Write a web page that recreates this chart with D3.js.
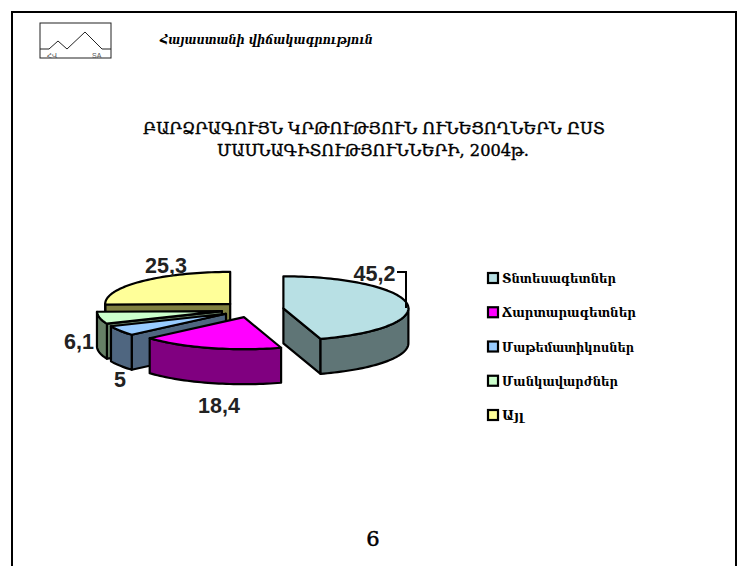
<!DOCTYPE html>
<html><head><meta charset="utf-8">
<style>html,body{margin:0;padding:0;background:#fff}svg{display:block}</style>
<script src="https://cdn.jsdelivr.net/npm/d3@7"></script>
</head><body><svg id="c" width="745" height="566"></svg>
<script>
const categories=["Տնտեսագետներ","Ճարտարագետներ","Մաթեմատիկոսներ","Մանկավարժներ","Այլ"];
const values=[45.2,18.4,5,6.1,25.3];
const valueLabels=["45,2","18,4","5","6,1","25,3"];
const topColors=["#b8e0e4","#ff00ff","#99ccff","#ccffcc","#ffff99"];
const wallColors=["#5f7576","#800080","#4f6680","#668066","#808040"];
const titleLines=["ԲԱՐՁՐԱԳՈՒՅՆ ԿՐԹՈՒԹՅՈՒՆ ՈՒՆԵՑՈՂՆԵՐՆ ԸՍՏ","ՄԱՍՆԱԳԻՏՈՒԹՅՈՒՆՆԵՐԻ, 2004թ."];
const subtitle="Հայաստանի վիճակագրություն";
const pageNumber="6";

const svg=d3.select("#c");
const serif="'DejaVu Serif',serif";
const sans="'Liberation Sans',Arial,sans-serif";

// frame
svg.append("path").attr("d","M12,566V12H736V566").attr("fill","none").attr("stroke","#000").attr("stroke-width",2);

// logo
const logo=svg.append("g");
logo.append("rect").attr("x",40).attr("y",23).attr("width",71).attr("height",35).attr("fill","none").attr("stroke","#222").attr("stroke-width",1);
logo.append("path").attr("d",d3.line()([[40,49],[49,49],[58,41],[67,49],[85,32],[102,49],[111,49]])).attr("fill","none").attr("stroke","#222").attr("stroke-width",1);
logo.append("text").attr("x",47).attr("y",58).attr("font-family","'DejaVu Sans'").attr("font-size",7).attr("fill","#555").text("ՀՎ");
logo.append("text").attr("x",92).attr("y",58).attr("font-family",sans).attr("font-size",7).attr("fill","#555").text("SA");

svg.append("text").attr("x",160).attr("y",44).attr("font-family",serif).attr("font-style","italic").attr("font-weight","bold")
  .attr("font-size",13).attr("textLength",213).attr("lengthAdjust","spacingAndGlyphs").attr("fill","#000").text(subtitle);

svg.selectAll("text.t").data(titleLines).join("text").attr("class","t")
  .attr("x",(d,i)=>i?217:143).attr("y",(d,i)=>i?156:134).attr("font-family",serif).attr("font-size",17)
  .attr("textLength",(d,i)=>i?312:462).attr("lengthAdjust","spacingAndGlyphs").attr("fill","#000")
  .attr("stroke","#000").attr("stroke-width",0.4).text(d=>d);

svg.append("text").attr("x",373).attr("y",546).attr("text-anchor","middle").attr("font-family",serif).attr("font-size",21).attr("fill","#000")
  .attr("stroke","#000").attr("stroke-width",0.5).text(pageNumber);

// pie
const sx=d3.scaleLinear().domain([-1,1]).range([252.5-125,252.5+125]);
const sy=d3.scaleLinear().domain([-1,1]).range([309.5-32,309.5+32]);
const depth=35, explode=0.25;
const arcs=d3.pie().sort(null)(values);
const mid=a=>(a.startAngle+a.endAngle)/2;
const line=d3.line();
const pts=(a,a0,a1,dz)=>{
  const ox=explode*Math.sin(mid(a)), oy=-explode*Math.cos(mid(a));
  const n=Math.max(2,Math.ceil((a1-a0)/0.03));
  return d3.range(n+1).map(i=>{const t=a0+(a1-a0)*i/n;return [sx(ox+Math.sin(t)),sy(oy-Math.cos(t))+dz];});
};
const apex=(a,dz)=>{return [sx(explode*Math.sin(mid(a))),sy(-explode*Math.cos(mid(a)))+dz];};
const order=[4,3,2,1,0];
const g=svg.append("g").attr("stroke","#000").attr("stroke-width",2.2).attr("stroke-linejoin","round");
order.forEach(i=>{
  const a=arcs[i], s=g.append("g");
  const A0=apex(a,0),A1=apex(a,depth);
  const p0=pts(a,a.startAngle,a.startAngle,0)[0], p1=pts(a,a.endAngle,a.endAngle,0)[0];
  const face=p=>s.append("path").attr("d",line(p)+"Z").attr("fill",wallColors[i]);
  if(Math.sin(a.startAngle)<0) face([A0,p0,[p0[0],p0[1]+depth],A1]);
  if(Math.sin(a.endAngle)>0) face([A0,p1,[p1[0],p1[1]+depth],A1]);
  const w0=Math.max(a.startAngle,Math.PI/2), w1=Math.min(a.endAngle,Math.PI*1.5);
  if(w1>w0){const t=pts(a,w0,w1,0), b=pts(a,w0,w1,depth).reverse();face(t.concat(b));}
  s.append("path").attr("d",line([A0].concat(pts(a,a.startAngle,a.endAngle,0)))+"Z").attr("fill",topColors[i]);
});

// value labels
const labelPos=[[374.5,281],[219,413],[120,387],[79,349],[166,273]];
svg.selectAll("text.v").data(valueLabels).join("text").attr("class","v")
  .attr("x",(d,i)=>labelPos[i][0]).attr("y",(d,i)=>labelPos[i][1]).attr("text-anchor","middle")
  .attr("font-family",sans).attr("font-weight","bold").attr("font-size",21.5).attr("fill","#222").text(d=>d);
svg.append("path").attr("d","M397,272H406V308").attr("fill","none").attr("stroke","#000").attr("stroke-width",2);

// legend
const ly=d3.scalePoint().domain(categories).range([278,415]);
const leg=svg.selectAll("g.l").data(categories).join("g").attr("class","l").attr("transform",d=>`translate(0,${ly(d)})`);
leg.append("rect").attr("x",488).attr("y",-5).attr("width",10).attr("height",10).attr("fill",(d,i)=>topColors[i]).attr("stroke","#000").attr("stroke-width",2.2);
const widths=[114,134,132,116,22];
leg.append("text").attr("x",502).attr("y",5).attr("font-family",serif).attr("font-weight","bold").attr("font-size",13)
  .attr("textLength",(d,i)=>widths[i]).attr("lengthAdjust","spacingAndGlyphs").attr("fill","#000").text(d=>d);
</script></body></html>
